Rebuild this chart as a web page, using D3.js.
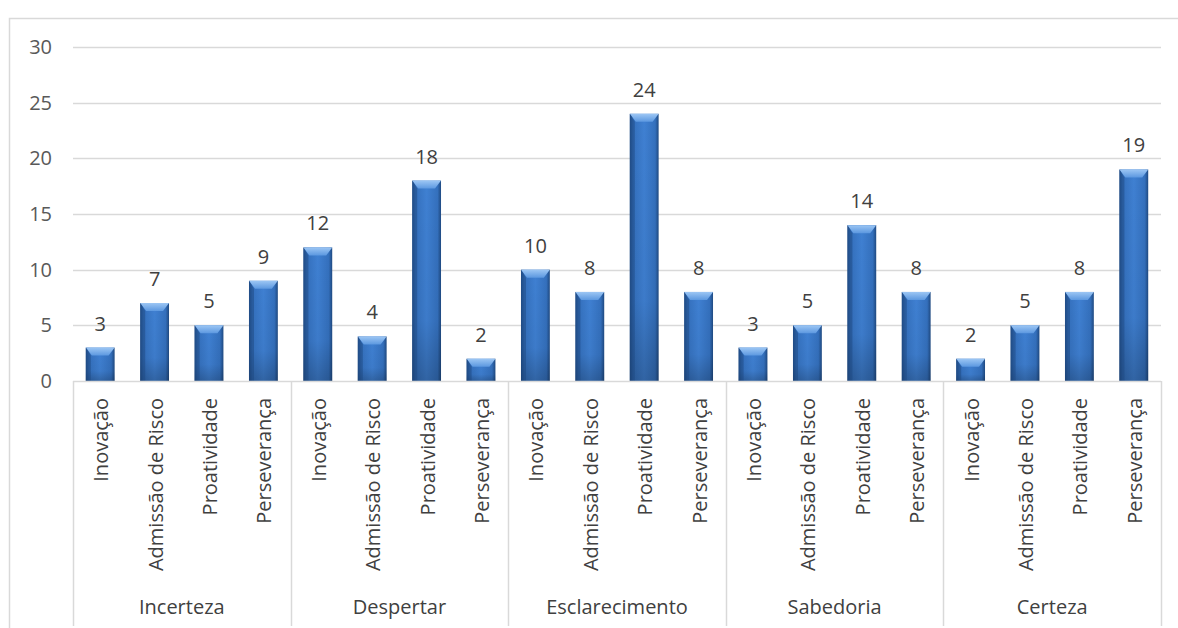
<!DOCTYPE html>
<html>
<head>
<meta charset="utf-8">
<script src="https://cdn.jsdelivr.net/npm/d3@7"></script>
<style>
  body { margin: 0; background: #fff; overflow: hidden; }
  svg { display: block; }
  text { font-family: "Open Sans", "Noto Sans", sans-serif; }
</style>
</head>
<body>
<svg id="chart" width="1178" height="628"></svg>
<script>
// Stages of the process and the four traits counted in each
const groups = ["Incerteza", "Despertar", "Esclarecimento", "Sabedoria", "Certeza"];
const traits = ["Inovação", "Admissão de Risco", "Proatividade", "Perseverança"];
const values = [
  [3, 7, 5, 9],
  [12, 4, 18, 2],
  [10, 8, 24, 8],
  [3, 5, 14, 8],
  [2, 5, 8, 19]
];
const yTicks = [0, 5, 10, 15, 20, 25, 30];

const svg = d3.select("#chart");
const plotLeft = 73, plotRight = 1161, plotTop = 47, base = 381;
const fs = 20;

const rows = [];
groups.forEach((g, gi) => traits.forEach((t, ti) =>
  rows.push({ key: g + "|" + t, group: g, trait: t, value: values[gi][ti] })));

const x = d3.scaleBand().domain(rows.map(d => d.key)).range([plotLeft, plotRight]).paddingInner(0.47).paddingOuter(0.235);
const y = d3.scaleLinear().domain([0, 30]).range([base, plotTop]);

// gradients for the bevelled bars
const defs = svg.append("defs");
const gBody = defs.append("linearGradient").attr("id", "barBody").attr("x1", 0).attr("x2", 1).attr("y1", 0).attr("y2", 0);
[["0%", "#22508c"], ["12%", "#3470bd"], ["50%", "#3f80d2"], ["88%", "#3470bd"], ["100%", "#1f4a82"]]
  .forEach(([o, c]) => gBody.append("stop").attr("offset", o).attr("stop-color", c));
const gShade = defs.append("linearGradient").attr("id", "barShade").attr("x1", 0).attr("x2", 0).attr("y1", 0).attr("y2", 1);
[["0%", "#000", 0], ["70%", "#000", 0.04], ["100%", "#000", 0.22]]
  .forEach(([o, c, a]) => gShade.append("stop").attr("offset", o).attr("stop-color", c).attr("stop-opacity", a));
const gTop = defs.append("linearGradient").attr("id", "barTop").attr("x1", 0).attr("x2", 0).attr("y1", 0).attr("y2", 1);
[["0%", "#9cc6f4"], ["100%", "#5c98e0"]]
  .forEach(([o, c]) => gTop.append("stop").attr("offset", o).attr("stop-color", c));

// outer chart frame
svg.append("rect").attr("x", 9.5).attr("y", 18.5).attr("width", 1200).attr("height", 700)
  .attr("fill", "none").attr("stroke", "#d9d9d9").attr("stroke-width", 1.5);

// horizontal gridlines
svg.append("g").selectAll("line").data(yTicks.filter(v => v > 0)).join("line")
  .attr("x1", plotLeft).attr("x2", plotRight).attr("y1", d => Math.round(y(d)) + 0.5).attr("y2", d => Math.round(y(d)) + 0.5)
  .attr("stroke", "#d9d9d9").attr("stroke-width", 1.5);

// y tick labels
svg.append("g").selectAll("text").data(yTicks).join("text")
  .attr("x", 52).attr("y", d => y(d)).attr("dy", "0.35em").attr("text-anchor", "end")
  .attr("font-size", fs).attr("fill", "#595959").text(d => d);

// bars
const bars = svg.append("g").selectAll("g").data(rows).join("g");
bars.append("rect").attr("x", d => x(d.key)).attr("y", d => y(d.value))
  .attr("width", x.bandwidth()).attr("height", d => base - y(d.value)).attr("fill", "url(#barBody)");
bars.append("rect").attr("x", d => x(d.key)).attr("y", d => y(d.value))
  .attr("width", x.bandwidth()).attr("height", d => base - y(d.value)).attr("fill", "url(#barShade)");
bars.append("path").attr("fill", "url(#barTop)").attr("d", d => {
  const x0 = x(d.key), x1 = x0 + x.bandwidth(), y0 = y(d.value), h = 8, i = 6;
  return `M${x0},${y0}L${x1},${y0}L${x1 - i},${y0 + h}L${x0 + i},${y0 + h}Z`;
});
bars.append("path").attr("fill", "#1d477f").attr("opacity", 0.5).attr("d", d => {
  const x0 = x(d.key), y0 = y(d.value), h = 8, i = 5;
  return `M${x0},${y0}L${x0 + i},${y0 + h}L${x0 + i},${base}L${x0},${base}Z`;
});

// value labels
svg.append("g").selectAll("text").data(rows).join("text")
  .attr("x", d => x(d.key) + x.bandwidth() / 2).attr("y", d => y(d.value) - 17)
  .attr("text-anchor", "middle").attr("font-size", fs).attr("fill", "#404040").text(d => d.value);

// baseline
svg.append("line").attr("x1", plotLeft).attr("x2", plotRight).attr("y1", base + 0.5).attr("y2", base + 0.5)
  .attr("stroke", "#d9d9d9").attr("stroke-width", 1.5);

// group separators
const step = (plotRight - plotLeft) / groups.length;
svg.append("g").selectAll("line").data(d3.range(groups.length + 1)).join("line")
  .attr("x1", i => Math.round(plotLeft + i * step) + 0.5).attr("x2", i => Math.round(plotLeft + i * step) + 0.5)
  .attr("y1", base).attr("y2", 626).attr("stroke", "#d9d9d9").attr("stroke-width", 1.5);

// rotated trait labels
svg.append("g").selectAll("text").data(rows).join("text")
  .attr("transform", d => `translate(${x(d.key) + x.bandwidth() / 2 + 8},398) rotate(-90)`)
  .attr("text-anchor", "end").attr("font-size", fs).attr("fill", "#404040").text(d => d.trait);

// group labels
svg.append("g").selectAll("text").data(groups).join("text")
  .attr("x", (g, i) => plotLeft + (i + 0.5) * step).attr("y", 614)
  .attr("text-anchor", "middle").attr("font-size", fs).attr("fill", "#404040").text(d => d);
</script>
</body>
</html>
